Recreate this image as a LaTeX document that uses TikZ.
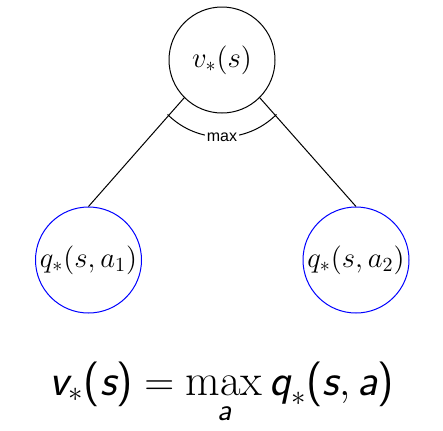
\documentclass[tikz,border=0pt]{standalone}
\usepackage{amsmath}
\usepackage{fontspec}
\newfontfamily\labelfont{Liberation Sans}
\newcommand{\sfv}[1]{\text{\sffamily\itshape #1}}
\newcommand{\sfu}[1]{\text{\sffamily #1}}
\usetikzlibrary{positioning}

\begin{document}
\begin{tikzpicture}[x=1pt, y=1pt,
    state/.style={draw, circle, line width=0.5pt, minimum size=53pt, inner sep=0pt, font=\Large},
    qstate/.style={state, draw=blue},
    edge/.style={draw, line width=0.5pt}
]
\useasboundingbox (0,0) rectangle (221.5,215);
\node[state] (v) at (111,185) {$v_*(s)$};
\node[qstate] (q1) at (44.25,85) {$q_*(s,a_1)$};
\node[qstate] (q2) at (178,85) {$q_*(s,a_2)$};
\draw[edge] (v.south west) -- (q1.north);
\draw[edge] (v.south east) -- (q2.north);
% max arc over the two actions
\coordinate (arcstart) at ([shift={(225:38.5pt)}]v.center);
\draw[edge] (arcstart) arc[start angle=225, end angle=315, radius=38.5pt]
    node[pos=0.5, fill=white, inner sep=1pt, font=\labelfont\footnotesize] (maxlabel) {max};
\node[anchor=base, font=\fontsize{22.4}{26}\selectfont] (bellman) at (110.75,17.5)
    {$\sfv{v}_*\sfu{(}\sfv{s}\sfu{)} = \max\limits_{\sfv{a}} \sfv{q}_*\sfu{(}\sfv{s}, \sfv{a}\sfu{)}$};
\end{tikzpicture}
\end{document}
